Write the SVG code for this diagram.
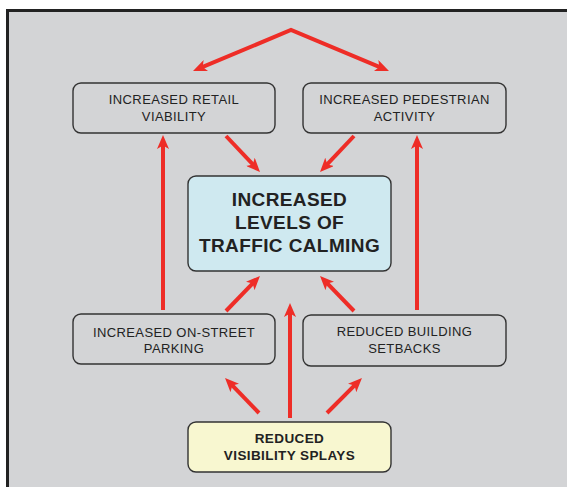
<svg xmlns="http://www.w3.org/2000/svg" width="567" height="487" viewBox="0 0 567 487">
<style>
.box{stroke:#333;stroke-width:1.4;fill:none}
.t{font-family:"Liberation Sans",Arial,sans-serif;font-size:13px;fill:#222;text-anchor:middle;letter-spacing:0.4px}
.tb{font-family:"Liberation Sans",Arial,sans-serif;font-weight:bold;fill:#222;text-anchor:middle;letter-spacing:0.4px}
.a{stroke:#ee2d27;stroke-width:4;fill:none;marker-end:url(#ah)}
</style>
<defs>
<marker id="ah" markerUnits="userSpaceOnUse" viewBox="0 0 14 12" refX="6" refY="6" markerWidth="14" markerHeight="12" orient="auto-start-reverse">
<path d="M0,0 L14,6 L0,12 L3.5,6 Z" fill="#ee2d27"/>
</marker>
</defs>
<rect x="0" y="0" width="567" height="487" fill="#ffffff"/>
<rect x="7.5" y="10.5" width="575" height="490" fill="#d3d4d6" stroke="#222" stroke-width="3"/>
<g id="connectors">
<path class="a" d="M200.4,67.9 L291,30 L381.6,67.9" stroke-linejoin="miter" marker-start="url(#ah)"/>
<path class="a" d="M163,310 L163,143"/>
<path class="a" d="M417,310 L417,143"/>
<path class="a" d="M226,136 L254.5,166.2"/>
<path class="a" d="M354,136 L325.5,166.2"/>
<path class="a" d="M226,311 L254.4,281.7"/>
<path class="a" d="M354,311 L325.6,281.7"/>
<path class="a" d="M290,418 L290,311"/>
<path class="a" d="M259,413 L230.6,383.7"/>
<path class="a" d="M327,413 L356.3,383.7"/>
</g>
<g id="retail">
<rect class="box" x="73" y="83" width="202" height="50" rx="8"/>
<text class="t" x="174" y="104">INCREASED RETAIL</text>
<text class="t" x="174" y="121">VIABILITY</text>
</g>
<g id="pedestrian">
<rect class="box" x="303" y="83" width="203" height="50" rx="8"/>
<text class="t" x="404.5" y="104">INCREASED PEDESTRIAN</text>
<text class="t" x="404.5" y="121">ACTIVITY</text>
</g>
<g id="calming">
<rect class="box" x="188" y="176" width="203" height="95" rx="8" style="fill:#cfe9f0"/>
<text class="tb" x="289.5" y="206" font-size="19">INCREASED</text>
<text class="tb" x="289.5" y="229" font-size="19">LEVELS OF</text>
<text class="tb" x="289.5" y="252" font-size="19">TRAFFIC CALMING</text>
</g>
<g id="parking">
<rect class="box" x="73" y="314" width="202" height="50" rx="8"/>
<text class="t" x="174" y="337">INCREASED ON-STREET</text>
<text class="t" x="174" y="353">PARKING</text>
</g>
<g id="setbacks">
<rect class="box" x="303" y="315" width="203" height="51" rx="8"/>
<text class="t" x="404.5" y="336">REDUCED BUILDING</text>
<text class="t" x="404.5" y="353">SETBACKS</text>
</g>
<g id="splays">
<rect class="box" x="188" y="422" width="203" height="50" rx="8" style="fill:#f8f7d0"/>
<text class="tb" x="289.5" y="443" font-size="13.5">REDUCED</text>
<text class="tb" x="289.5" y="460" font-size="13.5">VISIBILITY SPLAYS</text>
</g>
</svg>
